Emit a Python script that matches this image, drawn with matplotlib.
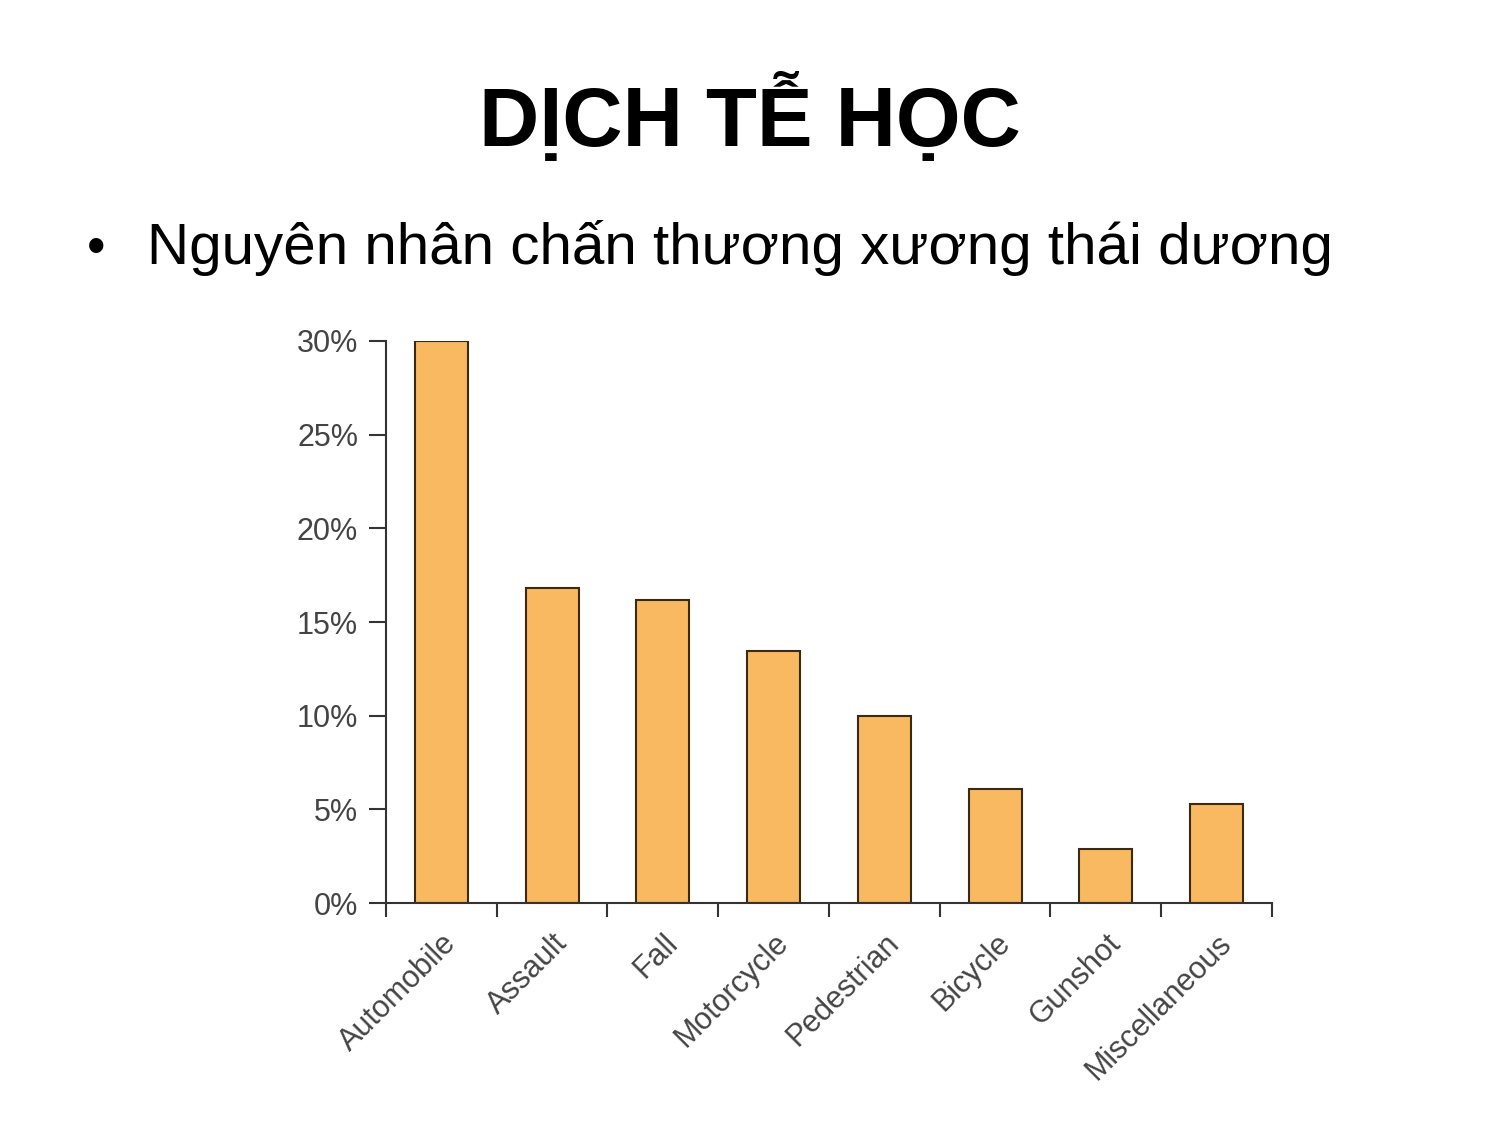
import numpy as np
import matplotlib.pyplot as plt

# =============================================================================
# Data
# =============================================================================

causes = ['Automobile', 'Assault', 'Fall', 'Motorcycle', 'Pedestrian',
          'Bicycle', 'Gunshot', 'Miscellaneous']
percent = [30.0, 16.8, 16.2, 13.45, 10.0, 6.1, 2.9, 5.3]
yticks = [0, 5, 10, 15, 20, 25, 30]
title = 'DỊCH TỄ HỌC'
bullet = 'Nguyên nhân chấn thương xương thái dương'

plt.rcParams['font.family'] = ['Liberation Sans', 'DejaVu Sans']

# =============================================================================
# Plotting
# =============================================================================

fig = plt.figure(figsize=(15, 11.25), dpi=100)
fig.text(0.5, 0.895, title, ha='center', va='center', fontsize=60,
         fontweight='bold')
fig.text(0.058, 0.765, '•', ha='left', va='baseline', fontsize=38)
fig.text(0.098, 0.765, bullet, ha='left', va='baseline', fontsize=42)

ax = fig.add_axes([0.2573, 0.1973, 0.5907, 0.4996])
x = np.arange(len(causes))
ax.bar(x, percent, width=0.48, color='#F9B961', edgecolor='#3a2a12',
       linewidth=1.5, zorder=2)

ax.set_xlim(-0.5, len(causes) - 0.5)
ax.set_ylim(0, 30)
ax.set_yticks(yticks)
ax.set_yticklabels([f'{t}%' for t in yticks])
ax.set_xticks(x)
ax.set_xticklabels(causes, rotation=45, ha='right', rotation_mode='anchor')
# boundaries between categories carry the tick marks
ax.set_xticks(np.arange(-0.5, len(causes)), minor=True)
ax.tick_params(axis='x', which='major', length=0, pad=18)
ax.tick_params(axis='x', which='minor', length=10, width=1.5,
               color='#333333', direction='out')
ax.tick_params(axis='y', length=12, width=1.5, color='#333333', pad=8)
ax.tick_params(labelsize=22, labelcolor='#444444')

for side in ['top', 'right']:
    ax.spines[side].set_visible(False)
for side in ['left', 'bottom']:
    ax.spines[side].set_color('#333333')
    ax.spines[side].set_linewidth(1.5)

fig.savefig('out.png', dpi=100)
